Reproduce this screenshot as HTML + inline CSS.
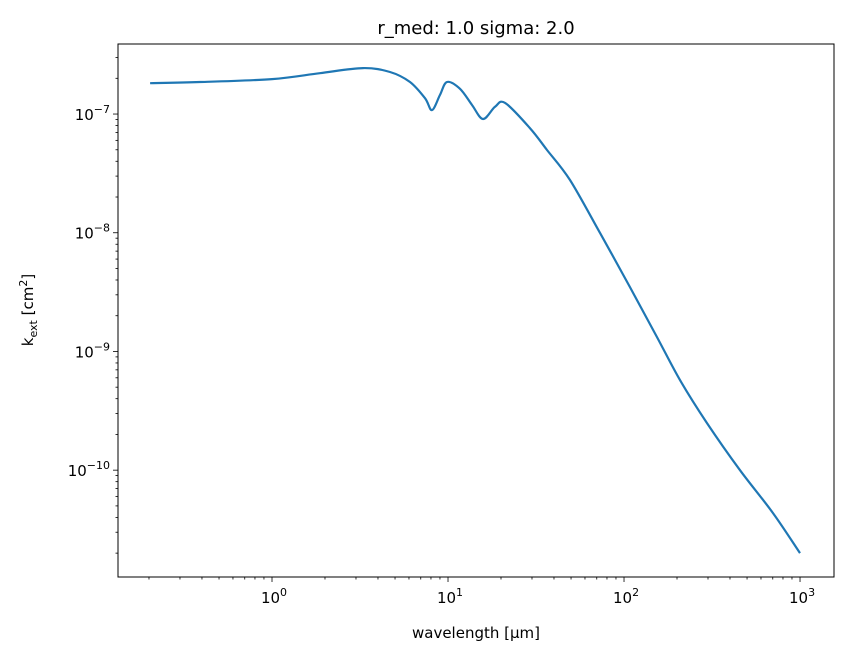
<!DOCTYPE html>
<html><head><meta charset="utf-8"><style>
body{margin:0;background:#fff;font-family:"DejaVu Sans","Liberation Sans",sans-serif}
</style></head><body>
<svg id="chart" width="846" height="658" xmlns="http://www.w3.org/2000/svg" font-family="DejaVu Sans, Liberation Sans, sans-serif">
<rect width="846" height="658" fill="#fff"/>
<text x="476" y="34" font-size="18" text-anchor="middle">r_med: 1.0 sigma: 2.0</text>
<text x="476" y="638" font-size="15" text-anchor="middle">wavelength [μm]</text>
<text transform="translate(33,310) rotate(-90)" font-size="15" text-anchor="middle">k<tspan font-size="11" dy="4">ext</tspan><tspan dy="-4"> [cm</tspan><tspan font-size="11" dy="-6">2</tspan><tspan dy="6">]</tspan></text>
<g id="ticks"></g>
<path id="series" fill="none" stroke="#1f77b4" stroke-width="2.2" stroke-linejoin="round"/>
<rect x="118" y="44" width="716" height="533" fill="none" stroke="#000" stroke-width="1"/>
</svg>
<script>
const wavelengths=[0.203,0.39,1.0,1.87,3.29,4.68,6.08,7.40,8.11,9.01,9.87,11.7,13.7,15.8,18.5,21.1,29.2,36.5,49.3,73.1,108,154,208,296,456,702,1000];
const kext=[1.82e-7,1.86e-7,1.97e-7,2.21e-7,2.44e-7,2.26e-7,1.86e-7,1.36e-7,1.08e-7,1.45e-7,1.86e-7,1.63e-7,1.19e-7,9.08e-8,1.15e-7,1.24e-7,7.62e-8,4.98e-8,2.78e-8,9.93e-9,3.49e-9,1.32e-9,5.74e-10,2.49e-10,1.0e-10,4.35e-11,2.0e-11];
const xTickExps=[0,1,2,3];
const yTickExps=[-7,-8,-9,-10];
const NS="http://www.w3.org/2000/svg";
const X0=118,X1=834,Y0=44,Y1=577;
const xMin=-0.875,xMax=3.193,yMin=-10.90,yMax=-6.41;
function sx(v){return X0+(Math.log10(v)-xMin)/(xMax-xMin)*(X1-X0);}
function sy(v){return Y1-(Math.log10(v)-yMin)/(yMax-yMin)*(Y1-Y0);}
const P=wavelengths.map((w,i)=>[sx(w),sy(kext[i])]);
let d="M"+P[0][0].toFixed(1)+","+P[0][1].toFixed(1);
for(let i=0;i<P.length-1;i++){
  const p0=P[Math.max(i-1,0)],p1=P[i],p2=P[i+1],p3=P[Math.min(i+2,P.length-1)];
  const c1=[p1[0]+(p2[0]-p0[0])/6,p1[1]+(p2[1]-p0[1])/6];
  const c2=[p2[0]-(p3[0]-p1[0])/6,p2[1]-(p3[1]-p1[1])/6];
  d+="C"+c1[0].toFixed(1)+","+c1[1].toFixed(1)+" "+c2[0].toFixed(1)+","+c2[1].toFixed(1)+" "+p2[0].toFixed(1)+","+p2[1].toFixed(1);
}
document.getElementById("series").setAttribute("d",d);
const g=document.getElementById("ticks");
function line(x1,y1,x2,y2,name){const l=document.createElementNS(NS,"line");
l.setAttribute("x1",x1);l.setAttribute("y1",y1);l.setAttribute("x2",x2);l.setAttribute("y2",y2);l.setAttribute("stroke","#000");l.setAttribute("stroke-width","0.8");


g.appendChild(l);}
function label(x,y,e,anchor,name){const t=document.createElementNS(NS,"text");
t.setAttribute("x",x);t.setAttribute("y",y);t.setAttribute("font-size","15");t.setAttribute("text-anchor",anchor);
t.innerHTML="10<tspan font-size='11' dy='-7'>"+(e<0?"\u2212"+(-e):e)+"</tspan>";


g.appendChild(t);}
for(let e=-1;e<=3;e++){for(let m=1;m<10;m++){const v=m*Math.pow(10,e);const lv=Math.log10(v);if(lv<xMin||lv>xMax)continue;const x=sx(v);
if(m===1){line(x,Y1,x,Y1+5,"x-major-tick");}else line(x,Y1,x,Y1+2.5,"x-minor-tick");}}
xTickExps.forEach(e=>label(sx(Math.pow(10,e))+2,Y1+26,e,"middle","x-tick-label"));
for(let e=-11;e<=-6;e++){for(let m=1;m<10;m++){const v=m*Math.pow(10,e);const lv=Math.log10(v);if(lv<yMin||lv>yMax)continue;const y=sy(v);
if(m===1)line(X0-5,y,X0,y,"y-major-tick");else line(X0-2.5,y,X0,y,"y-minor-tick");}}
yTickExps.forEach(e=>label(X0-8,sy(Math.pow(10,e))+6,e,"end","y-tick-label"));
</script>
</body></html>
